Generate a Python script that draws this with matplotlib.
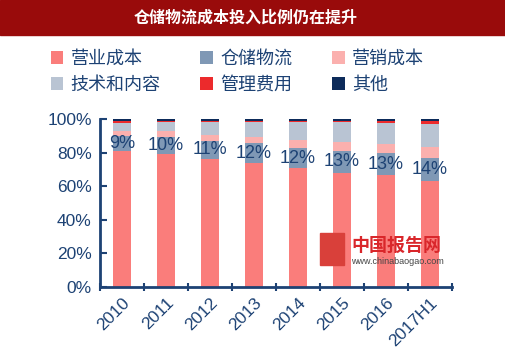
import numpy as np
import matplotlib.pyplot as plt
from matplotlib.patches import Rectangle

plt.rcParams['font.family'] = ['Liberation Sans', 'Noto Sans CJK SC', 'DejaVu Sans']

years = ["2010", "2011", "2012", "2013", "2014", "2015", "2016", "2017H1"]
# shares in %
yingye = [81, 79, 76, 73.5, 70.5, 68, 66.5, 63]      # 营业成本
cangchu = [9, 10, 11, 12, 12, 13, 13, 14]            # 仓储物流
yingxiao = [3, 3.5, 3.5, 4, 5, 5, 5.5, 6]            # 营销成本
jishu = [4.5, 5.5, 7.5, 8.5, 10.5, 12, 12.5, 14]     # 技术和内容
guanli = [1.5, 1, 1, 1, 1, 1, 1.5, 2]                # 管理费用
qita = [1, 1, 1, 1, 1, 1, 1, 1]                      # 其他
cangchu_labels = ["9%", "10%", "11%", "12%", "12%", "13%", "13%", "14%"]

series = [
    ("营业成本", yingye, "#fa7d7b"),
    ("仓储物流", cangchu, "#7f98b5"),
    ("营销成本", yingxiao, "#fbb0ae"),
    ("技术和内容", jishu, "#b9c4d3"),
    ("管理费用", guanli, "#ec2a2c"),
    ("其他", qita, "#0d2b5a"),
]

navy = "#1d4274"

fig = plt.figure(figsize=(5.05, 3.58), dpi=100)
fig.patches.append(Rectangle((0, 0.903), 1, 0.097, transform=fig.transFigure,
                             color="#990b0b", zorder=0))
fig.text(0.487, 0.952, "仓储物流成本投入比例仍在提升", color="white",
         fontsize=11.5, fontweight="bold", ha="center", va="center",
         family=["Noto Sans CJK SC"])

ax = fig.add_axes([0.198, 0.198, 0.697, 0.470])
x = np.arange(len(years))
bottom = np.zeros(len(years))
handles = []
for name, vals, col in series:
    v = np.array(vals, dtype=float)
    b = ax.bar(x, v, 0.39, bottom=bottom, color=col, label=name, linewidth=0)
    handles.append(b)
    if name == "仓储物流":
        for xi, bi, vi, lab in zip(x, bottom, v, cangchu_labels):
            ax.text(xi, bi + vi / 2, lab, ha="center", va="center",
                    fontsize=13, color=navy)
    bottom += v

ax.set_xlim(-0.5, len(years) - 0.5)
ax.set_ylim(0, 100)
ax.set_yticks(np.arange(0, 101, 20))
ax.set_yticklabels([f"{t}%" for t in range(0, 101, 20)], fontsize=12.5, color=navy)
ax.set_xticks(x)
ax.set_xticklabels(years, rotation=45, ha="right", va="top",
                   rotation_mode="anchor", fontsize=12.5, color=navy)
ax.set_xticks(np.arange(-0.5, len(years)), minor=True)
ax.tick_params(axis="x", which="major", length=0, pad=6)
ax.tick_params(axis="x", which="minor", length=6, width=1.5, color=navy,
               direction="inout")
ax.tick_params(axis="y", direction="in", length=5, width=1.5, color=navy, pad=6)
for s in ["top", "right"]:
    ax.spines[s].set_visible(False)
for s in ["left", "bottom"]:
    ax.spines[s].set_color(navy)
    ax.spines[s].set_linewidth(2)

# legend is filled by columns, so reorder to read row by row
order = [0, 3, 1, 4, 2, 5]
fig.legend(handles=[handles[i] for i in order], loc="center",
           bbox_to_anchor=(0.47, 0.80), ncol=3, frameon=False,
           handlelength=0.7, handleheight=0.7, handletextpad=0.4,
           columnspacing=2.2, labelspacing=0.45, labelcolor=navy,
           prop={"family": ["Noto Sans CJK SC"], "size": 13})

# watermark
fig.text(0.695, 0.315, "中国报告网", color="#d9262a", fontsize=13,
         fontweight="bold", family=["Noto Sans CJK SC"], va="center")
fig.text(0.695, 0.27, "www.chinabaogao.com", color="#444444", fontsize=6.5,
         va="center")
fig.patches.append(Rectangle((0.634, 0.26), 0.048, 0.09, transform=fig.transFigure,
                             color="#d9403a", zorder=5))

fig.savefig("out.png", dpi=100)
